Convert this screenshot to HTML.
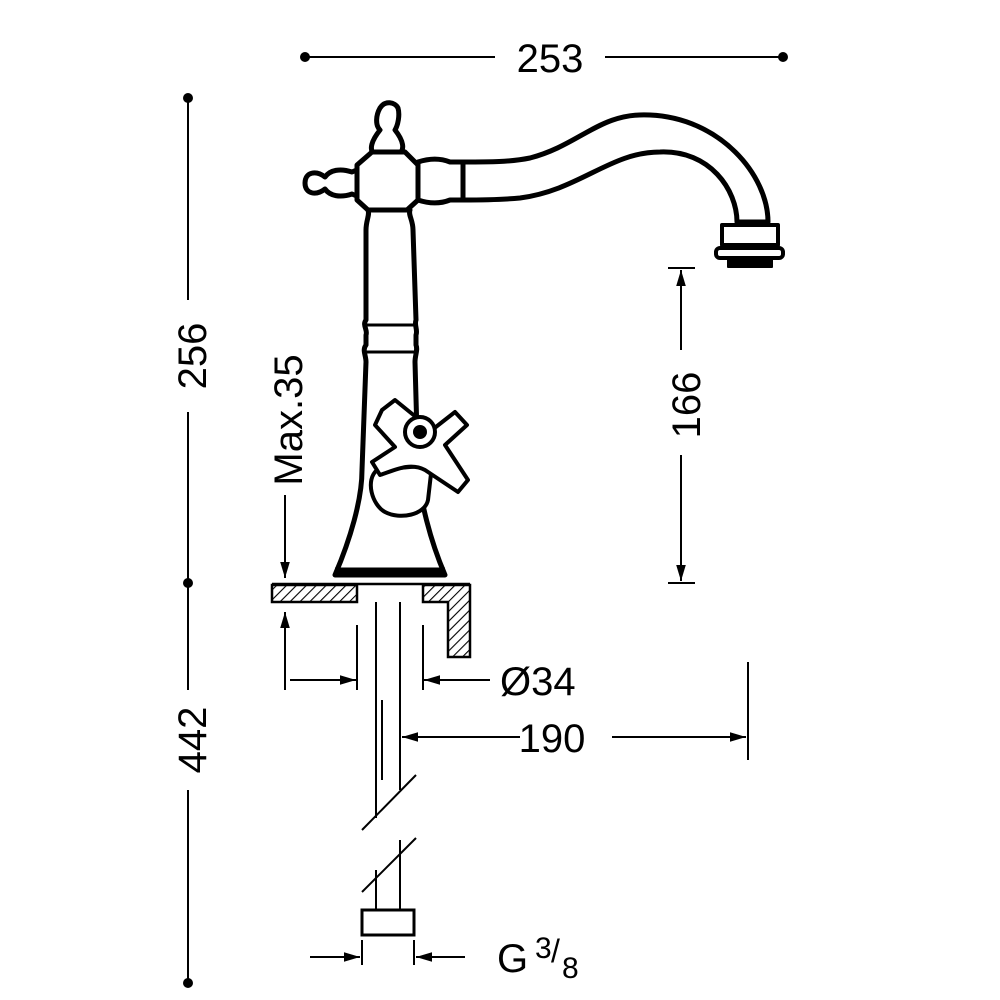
<!DOCTYPE html>
<html><head><style>html,body{margin:0;padding:0;background:#fff}svg{display:block}
text{font-family:"Liberation Sans",sans-serif;font-size:40px;fill:#000}</style></head>
<body>
<svg width="1000" height="1000" viewBox="0 0 1000 1000" xmlns="http://www.w3.org/2000/svg">
<defs>
<pattern id="h" width="7" height="7" patternUnits="userSpaceOnUse" patternTransform="rotate(45)">
<rect width="7" height="7" fill="#fff"/><line x1="0" y1="0" x2="0" y2="7" stroke="#000" stroke-width="2.2"/></pattern>
<marker id="a" viewBox="0 0 10 10" refX="10" refY="5" markerWidth="20" markerHeight="16" markerUnits="userSpaceOnUse" orient="auto"><path d="M0,2 L10,5 L0,8 Z" fill="#000"/></marker>
</defs>
<g stroke="#000" stroke-width="2" fill="none">
<line x1="305" y1="57" x2="495" y2="57"/><line x1="605" y1="57" x2="783" y2="57"/>
<line x1="188" y1="98" x2="188" y2="300"/><line x1="188" y1="412" x2="188" y2="583"/>
<line x1="188" y1="583" x2="188" y2="690"/><line x1="188" y1="790" x2="188" y2="983"/>
<line x1="285" y1="495" x2="285" y2="578" marker-end="url(#a)"/>
<line x1="285" y1="690" x2="285" y2="612" marker-end="url(#a)"/>
<line x1="272" y1="584" x2="300" y2="584"/>
<line x1="668" y1="268" x2="695" y2="268"/><line x1="668" y1="583" x2="695" y2="583"/>
<line x1="681" y1="350" x2="681" y2="270" marker-end="url(#a)"/>
<line x1="681" y1="455" x2="681" y2="581" marker-end="url(#a)"/>
<line x1="357" y1="625" x2="357" y2="690"/><line x1="423" y1="625" x2="423" y2="690"/>
<line x1="290" y1="680" x2="356" y2="680" marker-end="url(#a)"/>
<line x1="490" y1="680" x2="424" y2="680" marker-end="url(#a)"/>
<line x1="748" y1="662" x2="748" y2="760"/>
<line x1="520" y1="737" x2="402" y2="737" marker-end="url(#a)"/>
<line x1="612" y1="737" x2="746" y2="737" marker-end="url(#a)"/>
<line x1="376" y1="602" x2="376" y2="818"/><line x1="382" y1="700" x2="382" y2="780"/>
<line x1="400" y1="602" x2="400" y2="790"/>
<line x1="376" y1="870" x2="376" y2="910"/><line x1="400" y1="840" x2="400" y2="910"/>
<line x1="362" y1="830" x2="416" y2="775"/><line x1="362" y1="892" x2="416" y2="838"/>
<rect x="362" y="910" width="52" height="25" stroke-width="3"/>
<line x1="362" y1="940" x2="362" y2="965"/><line x1="414" y1="940" x2="414" y2="965"/>
<line x1="310" y1="957" x2="360" y2="957" marker-end="url(#a)"/>
<line x1="465" y1="957" x2="416" y2="957" marker-end="url(#a)"/>
</g>
<g fill="#000">
<circle cx="305" cy="57" r="5"/><circle cx="783" cy="57" r="5"/>
<circle cx="188" cy="98" r="5"/><circle cx="188" cy="583" r="5"/><circle cx="188" cy="983" r="5"/>
</g>
<g stroke="#000" stroke-width="2.5">
<rect x="272" y="585" width="85" height="17" fill="url(#h)"/>
<path d="M423,585 H470 V657 H448 V602 H423 Z" fill="url(#h)"/>
<line x1="272" y1="584" x2="470" y2="584"/>
</g>
<g stroke="#000" stroke-width="5" fill="#fff" stroke-linejoin="round">
<path d="M463,162 C490,162 510,162 530,158 C580,145 600,112 650,115 C720,118 768,175 768,222 L737,222 C737,190 710,150 660,152 C610,152 580,190 520,198 C500,200 480,200 463,200 Z"/>
<rect x="722" y="225" width="56" height="20" stroke-width="4"/>
<rect x="716" y="248" width="67" height="10" rx="4" stroke-width="4"/>
<rect x="728" y="258" width="44" height="9" fill="#000" stroke-width="2"/>
<path d="M418,162 C430,158 440,158 450,162 L463,162 L463,200 L450,200 C440,204 430,204 418,200 Z"/>
<path d="M366,166 L352,172 C340,168 330,170 325,177 C316,170 305,172 305,183 C305,194 316,196 325,189 C330,196 340,198 352,194 L366,200 Z"/>
<path d="M375,155 C368,150 372,140 380,130 C375,125 376,115 380,108 C385,100 395,102 398,108 C400,115 398,125 395,130 C403,140 406,150 398,155 Z"/>
<path d="M372,152 L405,152 L418,165 L418,200 L407,210 L368,210 L357,200 L357,165 Z"/>
<path d="M368,210 C370,215 366,220 366,230 L366,320 C362,325 368,330 366,335 L366,345 C362,350 366,355 366,362 L362,470 C362,500 350,540 335,575 L445,575 C430,540 420,500 418,470 L415,362 C415,355 418,350 416,345 L416,335 C418,330 414,325 416,320 L413,230 C413,220 408,215 410,210 Z"/>
<line x1="335" y1="570" x2="445" y2="570"/>
<line x1="366" y1="325" x2="416" y2="325" stroke-width="3"/><line x1="366" y1="352" x2="416" y2="352" stroke-width="3"/>
<path d="M377,470 C365,480 372,505 385,512 C400,520 425,515 428,500 L432,465 Z" stroke-width="4"/>
<path d="M382,410 L395,400 L432,430 L455,412 L467,425 L445,445 L468,480 L458,492 L425,470 C410,462 395,470 380,475 L372,462 L395,447 L375,425 Z" stroke-width="4"/>
<circle cx="420" cy="432" r="15" stroke-width="4"/>
<circle cx="420" cy="432" r="7" fill="#000" stroke="none"/>
</g>
<text x="550" y="72" text-anchor="middle">253</text>
<text x="552" y="752" text-anchor="middle">190</text>
<text x="500" y="695">Ø34</text>
<text x="497" y="972">G</text>
<text x="535" y="958" style="font-size:30px">3</text>
<text x="551" y="962" style="font-size:32px">/</text>
<text x="562" y="978" style="font-size:30px">8</text>
<text transform="translate(206,356) rotate(-90)" text-anchor="middle">256</text>
<text transform="translate(206,740) rotate(-90)" text-anchor="middle">442</text>
<text transform="translate(700,405) rotate(-90)" text-anchor="middle">166</text>
<text transform="translate(302,420) rotate(-90)" text-anchor="middle">Max.35</text>
</svg>
</body></html>
